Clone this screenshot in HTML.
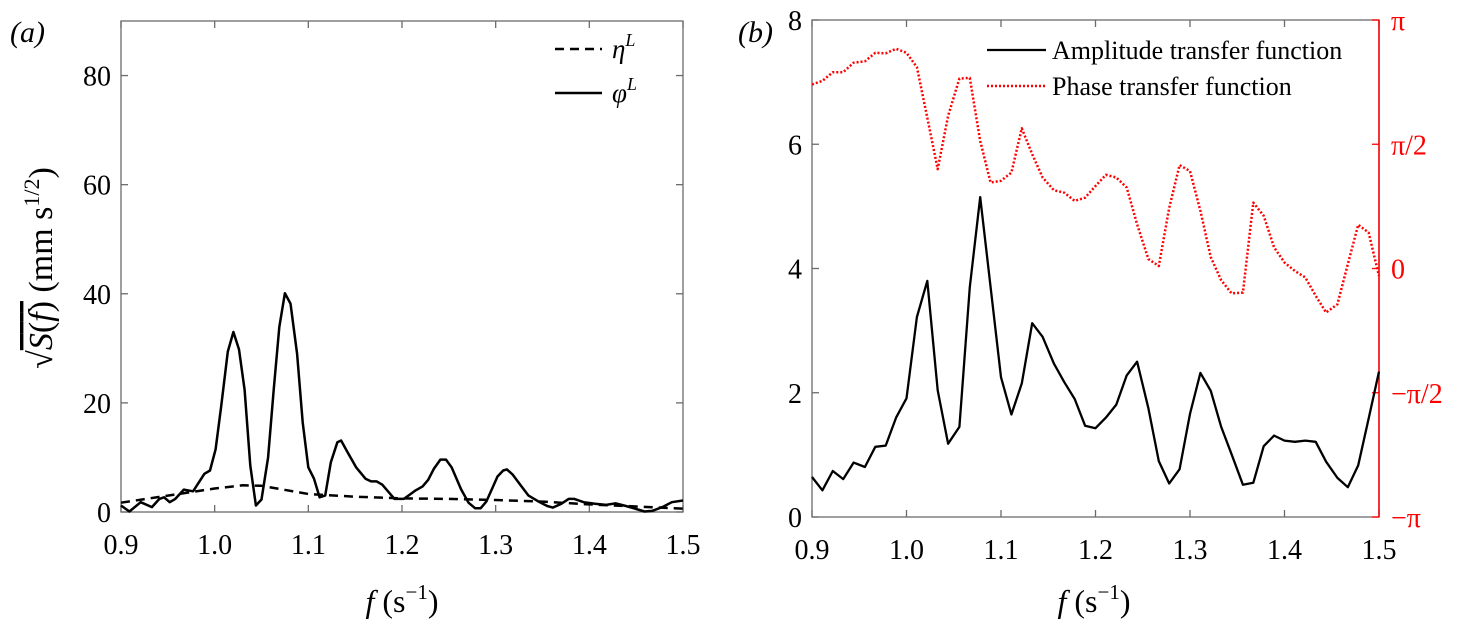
<!DOCTYPE html>
<html><head><meta charset="utf-8"><style>
body{margin:0;background:#fff;}
svg{display:block;font-family:"Liberation Serif",serif;}
</style></head><body>
<svg id="c" width="1457" height="625" xmlns="http://www.w3.org/2000/svg"></svg>
<script>
const fA=[0.9,0.909,0.921,0.933,0.941,0.946,0.952,0.958,0.967,0.977,0.989,0.995,1.001,1.007,1.014,1.02,1.026,1.032,1.038,1.044,1.05,1.057,1.063,1.069,1.075,1.081,1.088,1.094,1.1,1.106,1.112,1.118,1.124,1.131,1.135,1.142,1.151,1.161,1.167,1.173,1.179,1.192,1.202,1.214,1.222,1.228,1.234,1.241,1.247,1.253,1.263,1.271,1.278,1.284,1.29,1.296,1.302,1.308,1.312,1.318,1.327,1.335,1.345,1.355,1.361,1.37,1.378,1.384,1.394,1.406,1.418,1.428,1.439,1.449,1.459,1.467,1.478,1.488,1.5];
const phiL=[1.2,0.1,1.8,0.9,2.4,2.7,1.8,2.4,4.1,3.8,7,7.6,11.5,19.4,29.4,33,29.8,22.4,8.5,1.2,2.3,10,22.4,33.9,40.1,38.2,29,16.4,8.2,6.1,2.7,3,9.1,12.8,13.1,10.9,8.2,6.1,5.6,5.6,5,2.4,2.4,3.9,4.7,5.9,7.9,9.6,9.6,8.2,4.2,1.7,0.7,0.7,1.9,4.2,6.5,7.6,7.8,6.9,4.8,3,2,1.1,0.8,1.5,2.4,2.4,1.8,1.5,1.3,1.6,1.1,0.6,0.1,0.2,0.9,1.8,2.1];
const fEta=[0.9,0.95,1.0,1.03,1.05,1.1,1.15,1.2,1.25,1.3,1.35,1.4,1.45,1.5];
const etaL=[1.7,3.0,4.3,4.9,4.8,3.3,2.8,2.5,2.4,2.2,1.9,1.4,1.0,0.6];
const fB=[0.9,0.911,0.922,0.933,0.944,0.956,0.967,0.978,0.989,1.0,1.011,1.022,1.033,1.044,1.056,1.067,1.078,1.089,1.1,1.111,1.122,1.133,1.144,1.156,1.167,1.178,1.189,1.2,1.211,1.222,1.233,1.244,1.256,1.267,1.278,1.289,1.3,1.311,1.322,1.333,1.344,1.356,1.367,1.378,1.389,1.4,1.411,1.422,1.433,1.444,1.456,1.467,1.478,1.489,1.5];
const amp=[0.644,0.43,0.74,0.61,0.875,0.805,1.13,1.15,1.6,1.91,3.22,3.8,2.04,1.18,1.45,3.7,5.15,3.7,2.25,1.65,2.15,3.12,2.9,2.47,2.17,1.9,1.47,1.43,1.6,1.81,2.28,2.5,1.75,0.9,0.54,0.77,1.66,2.32,2.03,1.45,1.01,0.52,0.55,1.14,1.31,1.23,1.21,1.23,1.21,0.89,0.63,0.48,0.83,1.58,2.34];
const phaseOverPi=[0.741,0.755,0.79,0.79,0.828,0.834,0.868,0.866,0.884,0.868,0.81,0.607,0.4,0.614,0.764,0.767,0.513,0.346,0.353,0.386,0.564,0.46,0.366,0.315,0.305,0.272,0.285,0.332,0.377,0.366,0.326,0.178,0.038,0.01,0.244,0.416,0.392,0.232,0.045,-0.047,-0.1,-0.097,0.265,0.212,0.085,0.024,-0.01,-0.036,-0.11,-0.177,-0.144,0.017,0.176,0.145,-0.03];
const xTicks=[0.9,1.0,1.1,1.2,1.3,1.4,1.5];
const xTickLabels=["0.9","1.0","1.1","1.2","1.3","1.4","1.5"];
const yTicksA=[0,20,40,60,80];
const yTicksB=[0,2,4,6,8];
const rTicks=[-1,-0.5,0,0.5,1];
const rTickLabels=["\u2212\u03c0","\u2212\u03c0/2","0","\u03c0/2","\u03c0"];

const svg=document.getElementById('c');
const NS='http://www.w3.org/2000/svg';
function mk(tag,attrs,parent){const e=document.createElementNS(NS,tag);for(const k in attrs)e.setAttribute(k,attrs[k]);(parent||svg).appendChild(e);return e;}

const A={l:121,r:683,t:21,b:512,ymax:90};
const xa=f=>A.l+(f-0.9)/0.6*(A.r-A.l);
const ya=v=>A.b-v/A.ymax*(A.b-A.t);
const B={l:812,r:1379,t:20,b:517};
const xb=f=>B.l+(f-0.9)/0.6*(B.r-B.l);
const yb=v=>B.b-v/8*(B.b-B.t);
const yr=p=>B.b-(p+1)/2*(B.b-B.t);

function axes(P,xf,yticks,yf,name){
  const g=mk('g',{});
  
  
  mk('rect',{x:P.l,y:P.t,width:P.r-P.l,height:P.b-P.t,fill:'none',stroke:'#6b6b6b','stroke-width':1.3},g);
  xTicks.forEach((t,i)=>{const x=xf(t);
    mk('line',{x1:x,x2:x,y1:P.b,y2:P.b-7,stroke:'#6b6b6b','stroke-width':1.3},g);
    mk('line',{x1:x,x2:x,y1:P.t,y2:P.t+7,stroke:'#6b6b6b','stroke-width':1.3},g);
    const tx=mk('text',{x:x,y:P.b+42,'font-size':28,'text-anchor':'middle',fill:'#000'},g);tx.textContent=xTickLabels[i];
    
    
  });
  yticks.forEach(t=>{const y=yf(t);
    mk('line',{x1:P.l,x2:P.l+7,y1:y,y2:y,stroke:'#6b6b6b','stroke-width':1.3},g);
    if(name==='a')mk('line',{x1:P.r,x2:P.r-7,y1:y,y2:y,stroke:'#6b6b6b','stroke-width':1.3},g);
    const tx=mk('text',{x:P.l-10,y:y+10,'font-size':28,'text-anchor':'end',fill:'#000'},g);tx.textContent=t;
    
    
  });
  return g;
}
axes(A,xa,yTicksA,ya,'a');
axes(B,xb,yTicksB,yb,'b');
const rl=mk('line',{x1:B.r,x2:B.r,y1:B.t,y2:B.b,stroke:'#ff0000','stroke-width':1.5});


rTicks.forEach((p,i)=>{const y=yr(p);
  mk('line',{x1:B.r,x2:B.r-7,y1:y,y2:y,stroke:'#ff0000','stroke-width':1.3});
  const tx=mk('text',{x:B.r+12,y:y+10,'font-size':28,fill:'#ff0000'});tx.textContent=rTickLabels[i];
  
  
});

function line(xs,ys,xf,yf,style,name){
  const d=xs.map((x,i)=>(i?'L':'M')+xf(x).toFixed(1)+' '+yf(ys[i]).toFixed(1)).join(' ');
  const p=mk('path',Object.assign({d:d,fill:'none','stroke-linejoin':'round'},style));
  
  
}
line(fEta,etaL,xa,ya,{stroke:'#000','stroke-width':2.5,'stroke-dasharray':'9 6'},'eta-line');
line(fA,phiL,xa,ya,{stroke:'#000','stroke-width':2.5},'phi-line');
line(fB,amp,xb,yb,{stroke:'#000','stroke-width':2.3},'amplitude-line');
line(fB,phaseOverPi,xb,yr,{stroke:'#ff0000','stroke-width':2.5,'stroke-dasharray':'2 2'},'phase-line');
</script>
<svg style="position:absolute;left:0;top:0" width="1457" height="625" xmlns="http://www.w3.org/2000/svg" font-family="Liberation Serif, serif">
  <text x="10" y="42" font-size="30" font-style="italic">(a)</text>
  <text x="738" y="42" font-size="30" font-style="italic">(b)</text>
  <g>
    <line x1="555" y1="49" x2="602" y2="49" stroke="#000" stroke-width="2.5" stroke-dasharray="9 6"/>
    <text x="612" y="58" font-size="27" font-style="italic">η<tspan font-size="18" dy="-12">L</tspan></text>
    <line x1="555" y1="93" x2="602" y2="93" stroke="#000" stroke-width="2.5"/>
    <text x="612" y="102" font-size="27" font-style="italic">φ<tspan font-size="18" dy="-12">L</tspan></text>
  </g>
  <g>
    <line x1="987" y1="50" x2="1046" y2="50" stroke="#000" stroke-width="2.3"/>
    <text x="1052" y="59" font-size="26">Amplitude transfer function</text>
    <line x1="987" y1="86" x2="1046" y2="86" stroke="#ff0000" stroke-width="2.5" stroke-dasharray="2 2"/>
    <text x="1052" y="95" font-size="26">Phase transfer function</text>
  </g>
  <text transform="translate(52,268) rotate(-90)" font-size="34" text-anchor="middle">√<tspan text-decoration="overline" font-style="italic">S</tspan><tspan text-decoration="overline">(</tspan><tspan font-style="italic" text-decoration="overline">f</tspan><tspan text-decoration="overline">)</tspan> (mm s<tspan font-size="22" dy="-13">1/2</tspan><tspan dy="13">)</tspan></text>
  <text x="402" y="612" font-size="32" text-anchor="middle"><tspan font-style="italic">f</tspan> (s<tspan font-size="21" dy="-13">−1</tspan><tspan dy="13">)</tspan></text>
  <text x="1094" y="612" font-size="32" text-anchor="middle"><tspan font-style="italic">f</tspan> (s<tspan font-size="21" dy="-13">−1</tspan><tspan dy="13">)</tspan></text>
</svg>
</body></html>
